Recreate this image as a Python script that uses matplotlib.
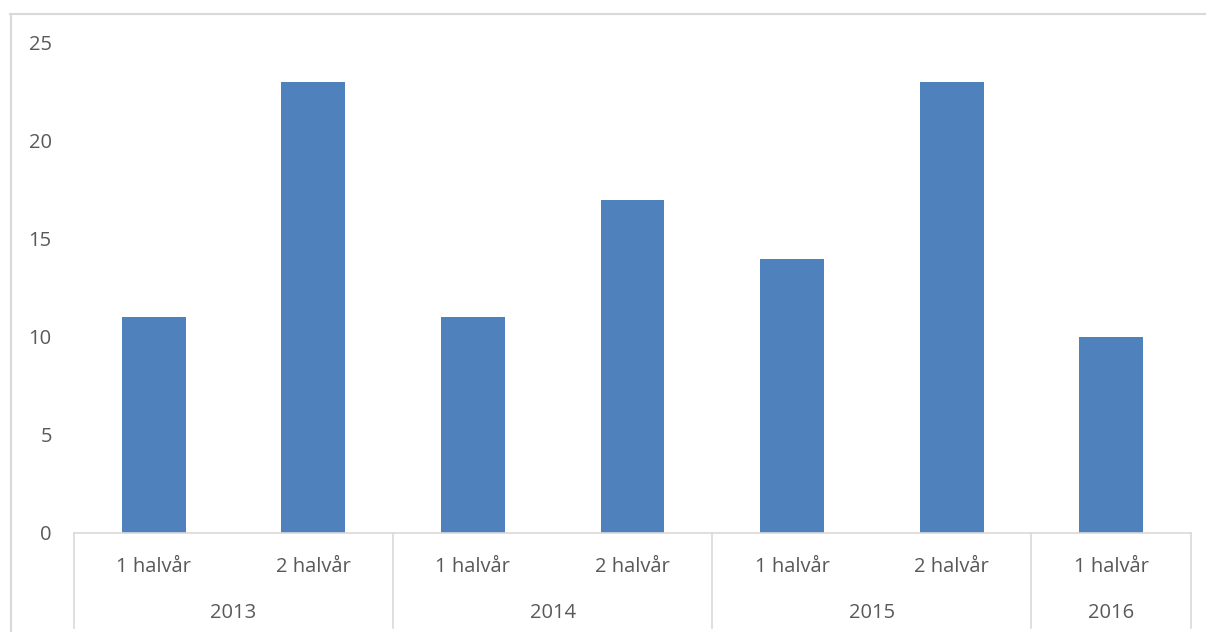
import matplotlib
matplotlib.use("Agg")
import matplotlib.pyplot as plt
from matplotlib.lines import Line2D
from matplotlib.transforms import blended_transform_factory

halves = ["1 halvår", "2 halvår", "1 halvår", "2 halvår", "1 halvår", "2 halvår", "1 halvår"]
years = ["2013", "2014", "2015", "2016"]
year_spans = [2, 2, 2, 1]
values = [11, 23, 11, 17, 14, 23, 10]

bar_color = "#4f81bd"
text_color = "#595959"
line_color = "#d9d9d9"
fs = 14.5

plt.rcParams["font.family"] = ["Open Sans", "DejaVu Sans"]

W, H = 1206, 632
fig = plt.figure(figsize=(W / 100, H / 100), dpi=100)
ax = fig.add_axes([74 / W, 1 - 533 / H, (1191 - 74) / W, (533 - 43) / H])

x = list(range(len(values)))
ax.bar(x, values, width=0.4, color=bar_color, zorder=2)
ax.set_xlim(-0.5, len(values) - 0.5)
ax.set_ylim(0, 25)
ax.set_yticks(range(0, 26, 5))
ax.tick_params(axis="y", length=0, pad=16, labelsize=fs, labelcolor=text_color)
ax.set_xticks([])
for s in ax.spines.values():
    s.set_visible(False)
ax.axhline(0, color=line_color, lw=1.2, zorder=3, clip_on=False)

# two-level category axis
tr = blended_transform_factory(ax.transData, fig.transFigure)
y_axis = 1 - 533 / H
for i, lab in enumerate(halves):
    ax.text(i, 1 - 567 / H, lab, transform=tr, ha="center", va="center",
            fontsize=fs, color=text_color)
bounds = [-0.5]
for n in year_spans:
    bounds.append(bounds[-1] + n)
for j, yr in enumerate(years):
    mid = (bounds[j] + bounds[j + 1]) / 2
    ax.text(mid, 1 - 613 / H, yr, transform=tr, ha="center", va="center",
            fontsize=fs, color=text_color)
for b in bounds:
    fig.add_artist(Line2D([b, b], [y_axis, 1 - 628 / H], transform=tr,
                          color=line_color, lw=1.2))

# chart border (cropped)
fig.add_artist(Line2D([10 / W, 1], [1 - 13.5 / H, 1 - 13.5 / H],
                      transform=fig.transFigure, color=line_color, lw=1.5))
fig.add_artist(Line2D([10.5 / W, 10.5 / W], [1 - 13.5 / H, 0],
                      transform=fig.transFigure, color=line_color, lw=1.5))

fig.savefig("out.png", dpi=100)
